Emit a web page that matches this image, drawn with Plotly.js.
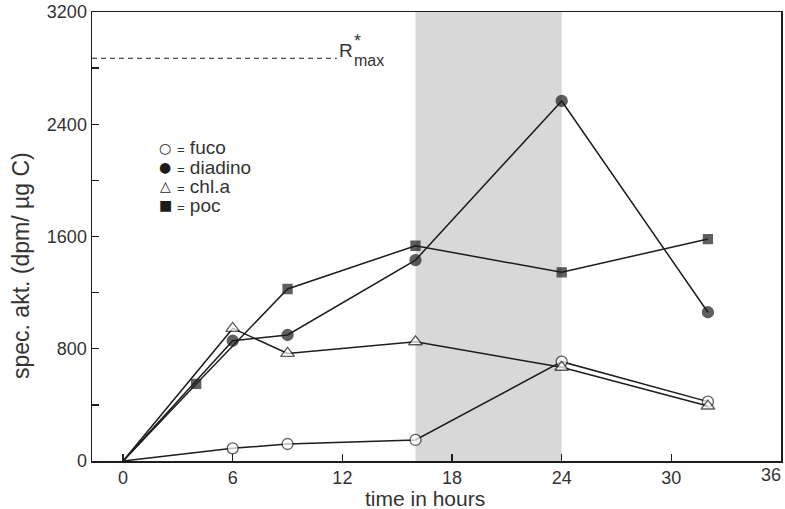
<!DOCTYPE html>
<html>
<head>
<meta charset="utf-8">
<script src="https://cdn.plot.ly/plotly-3.0.1.min.js"></script>
<style>html,body{margin:0;padding:0;background:#fff;}#chart{width:785px;height:509px;}</style>
</head>
<body>
<div id="chart"></div>
<script>
// ---- data ----
const hoursFuco = [0, 6, 9, 16, 24, 32];
const fuco      = [0, 90, 121, 150, 708, 423];
const hoursDiadino = [0, 6, 9, 16, 24, 32];
const diadino      = [0, 857, 898, 1432, 2566, 1060];
const hoursChla = [0, 6, 9, 16, 24, 32];
const chla      = [0, 945, 767, 850, 668, 392];
const hoursPoc = [0, 4, 9, 16, 24, 32];
const poc      = [0, 549, 1226, 1534, 1345, 1582];
const darkPeriod = [16, 24];      // shaded interval (hours)
const rMax = 2870;                // R*max level
const rMaxEnd = 11.7;             // where the dashed line ends (hours)
const xTicks = [0, 6, 12, 18, 24, 30, 36];
const yTicks = [0, 400, 800, 1200, 1600, 2000, 2400, 2800, 3200];
const yTickLabels = ['0', '', '800', '', '1600', '', '2400', '', '3200'];
const legendNames = ['fuco', 'diadino', 'chl.a', 'poc'];
const legendGlyphs = ['○', '●', '△', '■'];

const ink = '#1c1c1c';
const txt = '#333333';
const FONT = 'Liberation Sans, Arial, sans-serif';
const X0 = -1.7, X1 = 36;

function sizes(xs, s) { return xs.map(h => h === 0 ? 0 : s); }

function series(x, y, symbol, fill, size) {
  return {
    x: x, y: y, type: 'scatter', mode: 'lines+markers', showlegend: false,
    line: {color: ink, width: 1.5},
    marker: {symbol: symbol, color: fill, size: sizes(x, size), line: {color: ink, width: 1.3}},
    cliponaxis: false
  };
}

const traces = [
  series(hoursFuco, fuco, 'circle', '#ffffff', 11),
  series(hoursChla, chla, 'triangle-up', '#ffffff', 12),
  series(hoursPoc, poc, 'square', ink, 9),
  series(hoursDiadino, diadino, 'circle', ink, 11)
];

const legendRowsY = [148, 167, 186, 205];
const annotations = [];
legendNames.forEach((n, i) => {
  const py = legendRowsY[i];
  annotations.push({
    xref: 'paper', yref: 'paper', x: (165 - 92) / 689, y: (461 - py) / 449,
    text: legendGlyphs[i], showarrow: false, xanchor: 'center', yanchor: 'middle',
    font: {family: 'DejaVu Sans', size: 14, color: ink}
  });
  annotations.push({
    xref: 'paper', yref: 'paper', x: (175 - 92) / 689, y: (461 - py) / 449,
    text: '<span style="font-size:13px">=</span> ' + n, showarrow: false, xanchor: 'left', yanchor: 'middle',
    font: {family: FONT, size: 19, color: txt}
  });
});
// last x tick label, kept inside the page
annotations.push({xref: 'x', yref: 'paper', x: X1, y: 0, text: String(xTicks[xTicks.length - 1]),
  showarrow: false, xanchor: 'center', yanchor: 'top', xshift: -10, yshift: -2,
  font: {family: FONT, size: 18, color: txt}});
// axis titles
annotations.push({xref: 'paper', yref: 'paper', x: (425 - 92) / 689, y: (461 - 498) / 449,
  text: 'time in hours', showarrow: false, xanchor: 'center', yanchor: 'middle',
  font: {family: FONT, size: 21, color: txt}});
annotations.push({xref: 'paper', yref: 'paper', x: (21 - 92) / 689, y: (461 - 266) / 449,
  text: 'spec. akt. (dpm/ µg C)', textangle: -90, showarrow: false, xanchor: 'center', yanchor: 'middle',
  font: {family: FONT, size: 23, color: txt}});
// R*max label
annotations.push({xref: 'x', yref: 'y', x: rMaxEnd, y: rMax, text: 'R', showarrow: false,
  xanchor: 'left', yanchor: 'bottom', yshift: -5, font: {family: FONT, size: 19, color: txt}});
annotations.push({xref: 'x', yref: 'y', x: rMaxEnd, y: rMax, text: '*', showarrow: false,
  xanchor: 'left', yanchor: 'bottom', xshift: 15, yshift: 5, font: {family: FONT, size: 18, color: txt}});
annotations.push({xref: 'x', yref: 'y', x: rMaxEnd, y: rMax, text: 'max', showarrow: false,
  xanchor: 'left', yanchor: 'top', xshift: 15, yshift: 8, font: {family: FONT, size: 16, color: txt}});

const layout = {
  width: 785, height: 509,
  margin: {l: 92, r: 4, t: 12, b: 48},
  paper_bgcolor: '#ffffff', plot_bgcolor: '#ffffff',
  showlegend: false,
  font: {family: FONT, color: txt},
  xaxis: {
    range: [X0, X1], tickvals: xTicks.slice(0, -1), ticktext: xTicks.slice(0, -1).map(String),
    ticks: 'inside', ticklen: 7, tickwidth: 1.3, tickcolor: ink,
    showline: true, linecolor: ink, linewidth: 1.5, mirror: true,
    showgrid: false, zeroline: false,
    tickfont: {family: FONT, size: 18, color: txt}
  },
  yaxis: {
    range: [0, 3200], tickvals: yTicks, ticktext: yTickLabels,
    ticks: 'inside', ticklen: 7, tickwidth: 1.3, tickcolor: ink,
    showline: true, linecolor: ink, linewidth: 1.5, mirror: true,
    showgrid: false, zeroline: false,
    tickfont: {family: FONT, size: 18, color: txt}
  },
  shapes: [
    {type: 'rect', xref: 'x', yref: 'paper', x0: darkPeriod[0], x1: darkPeriod[1], y0: 0, y1: 1,
     fillcolor: '#d8d8d8', line: {width: 0}, layer: 'below'},
    {type: 'line', xref: 'x', yref: 'y', x0: X0, x1: rMaxEnd, y0: rMax, y1: rMax,
     line: {color: ink, width: 1.1, dash: '5px,4px'}}
  ],
  annotations: annotations
};

Plotly.newPlot('chart', traces, layout, {displayModeBar: false, staticPlot: true});
</script>
</body>
</html>
